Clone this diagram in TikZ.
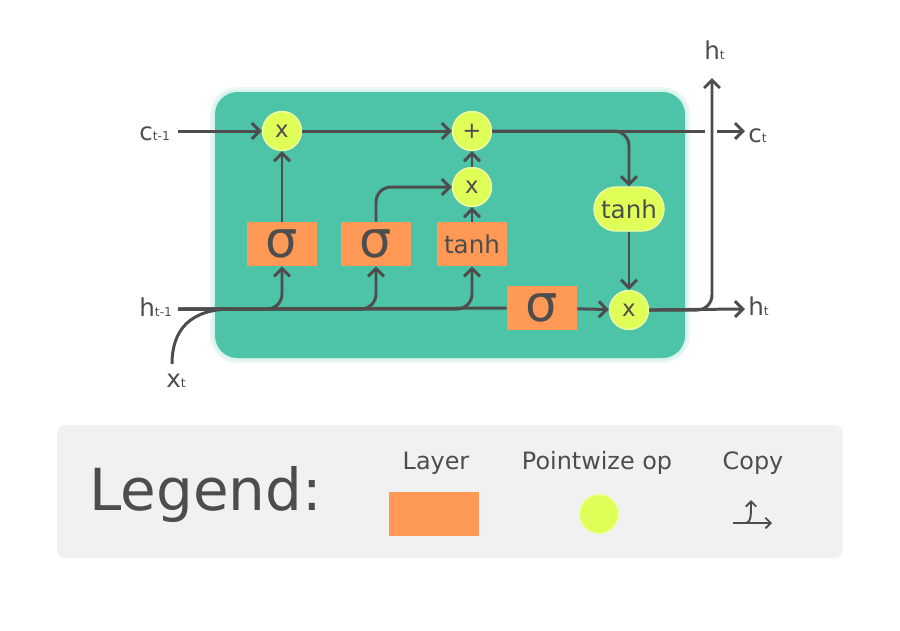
\documentclass[tikz,border=0pt]{standalone}
\usepackage{fontspec}
\setmainfont{DejaVu Sans}
\usetikzlibrary{calc,arrows.meta}
\definecolor{cellgreen}{HTML}{4DC3A7}
\definecolor{layerorange}{HTML}{FF9955}
\definecolor{opyellow}{HTML}{E0FE58}
\definecolor{wiregray}{HTML}{4D4D4D}
\definecolor{legendgray}{HTML}{F1F1F1}

\begin{document}
\begin{tikzpicture}[x=0.02cm, y=-0.02cm, text=wiregray, font=\fontsize{14}{16}\selectfont]
\def\lo#1{{\fontsize{7}{8}\selectfont #1}}
%styles
\tikzstyle{layer}=[rectangle, fill=layerorange, minimum width=1.4cm, minimum height=0.88cm, inner sep=0pt]
\tikzstyle{op}=[circle, fill=opyellow, draw=opyellow!55!white, line width=0.8pt, minimum size=0.78cm, inner sep=0pt, font=\fontsize{13}{14}\selectfont]
\tikzstyle{oval}=[rectangle, rounded corners=0.44cm, fill=opyellow, draw=opyellow!55!white, line width=0.8pt, minimum width=1.4cm, minimum height=0.88cm, inner sep=0pt]
\tikzstyle{textLine}=[inner sep=0pt]
\tikzstyle{line}=[draw=wiregray, line width=1.7pt]
\tikzstyle{vector}=[line, -{Straight Barb[length=4.5pt,width=9pt]}]
\tikzstyle{thinvec}=[draw=wiregray, line width=1.1pt, -{Straight Barb[length=3pt,width=6pt]}]

\useasboundingbox (0,0) rectangle (900,630);

%cell
\fill[cellgreen!12, rounded corners=0.55cm] (210,87) rectangle (690,363);
\fill[cellgreen!22, rounded corners=0.5cm] (212.5,89.5) rectangle (687.5,360.5);
\fill[cellgreen, rounded corners=0.45cm] (215,92) rectangle (685,358);

%gates
\node[op] (fgate) at (282,131) {x};
\node[op] (plus) at (472,131) {+};
\node[op] (igate) at (472,187) {x};
\node[op] (ogate) at (629,310) {x};
\node[layer, font=\fontsize{29}{30}\selectfont] (fsig) at (282,244) {σ};
\node[layer, font=\fontsize{29}{30}\selectfont] (isig) at (376,244) {σ};
\node[layer] (ctanh) at (472,244) {tanh};
\node[layer, font=\fontsize{29}{30}\selectfont] (osig) at (542,308) {σ};
\node[oval] (htanh) at (629,209) {tanh};

%ends
\coordinate (cin) at (178,131);
\coordinate (hin) at (178,309);
\coordinate (xin) at (172,364);
\coordinate (xjoin) at (232,309);
\coordinate (cgap) at (705,131);
\coordinate (cgapb) at (717,131);
\coordinate (cout) at (745,131);
\coordinate (hout) at (745,309);
\coordinate (hup) at (712,78);

%cell state
\draw[vector] (cin) -- (fgate);
\draw[vector] (fgate) -- (plus);
\draw[line] (plus) -- (cgap);
\draw[vector] (cgapb) -- (cout);
\draw[vector, rounded corners=0.3cm] (plus.east) -| (htanh.north);

%hidden state
\draw[line] (xin) .. controls (172,330) and (190,309) .. (xjoin);
\draw[line] (hin) -- (osig);
\draw[vector] (osig) -- (ogate);
\draw[vector, rounded corners=0.3cm] (hin) -| (fsig.south);
\draw[vector, rounded corners=0.3cm] (hin) -| (isig.south);
\draw[vector, rounded corners=0.3cm] (hin) -| (ctanh.south);
\draw[vector] (fsig) -- (fgate);
\draw[vector, rounded corners=0.3cm] (isig.north) |- (igate.west);
\draw[vector] (ctanh) -- (igate);
\draw[vector] (igate) -- (plus);
\draw[vector] (htanh) -- (ogate);
\draw[vector] (ogate) -- (hout);
\draw[vector, rounded corners=0.3cm] (ogate.east) -| (hup);

%texts
\node[textLine, anchor=base west] (cprev) at (139,140) {c\lo{t-1}};
\node[textLine, anchor=base west] (hprev) at (139,316) {h\lo{t-1}};
\node[textLine, anchor=base west] (xnow) at (166,387) {x\lo{t}};
\node[textLine, anchor=base west] (cnext) at (748,142) {c\lo{t}};
\node[textLine, anchor=base west] (hnext) at (748,315) {h\lo{t}};
\node[textLine, anchor=base west] (htop) at (704,59) {h\lo{t}};

%legend
\fill[legendgray, rounded corners=0.16cm] (57,425) rectangle (843,558);
\node[textLine, anchor=base west, font=\fontsize{33}{36}\selectfont] (legend) at (89,510) {Legend:};
\node[textLine, anchor=base, font=\fontsize{13.6}{15}\selectfont] (lglayertxt) at (436,469) {Layer};
\node[textLine, anchor=base, font=\fontsize{13.6}{15}\selectfont] (lgoptxt) at (597,469) {Pointwize op};
\node[textLine, anchor=base, font=\fontsize{13.6}{15}\selectfont] (lgcopytxt) at (753,469) {Copy};
\node[layer, minimum width=1.8cm] (lglayer) at (434,514) {};
\node[op, minimum size=0.78cm] (lgop) at (599,514) {};
\coordinate (cpa) at (733,523);
\coordinate (cpb) at (772,523);
\coordinate (cpc) at (744,523);
\coordinate (cpd) at (751,500);
\draw[thinvec] (cpa) -- (cpb);
\draw[thinvec] (cpc) .. controls (751,523) and (751,518) .. (cpd);
\end{tikzpicture}
\end{document}
